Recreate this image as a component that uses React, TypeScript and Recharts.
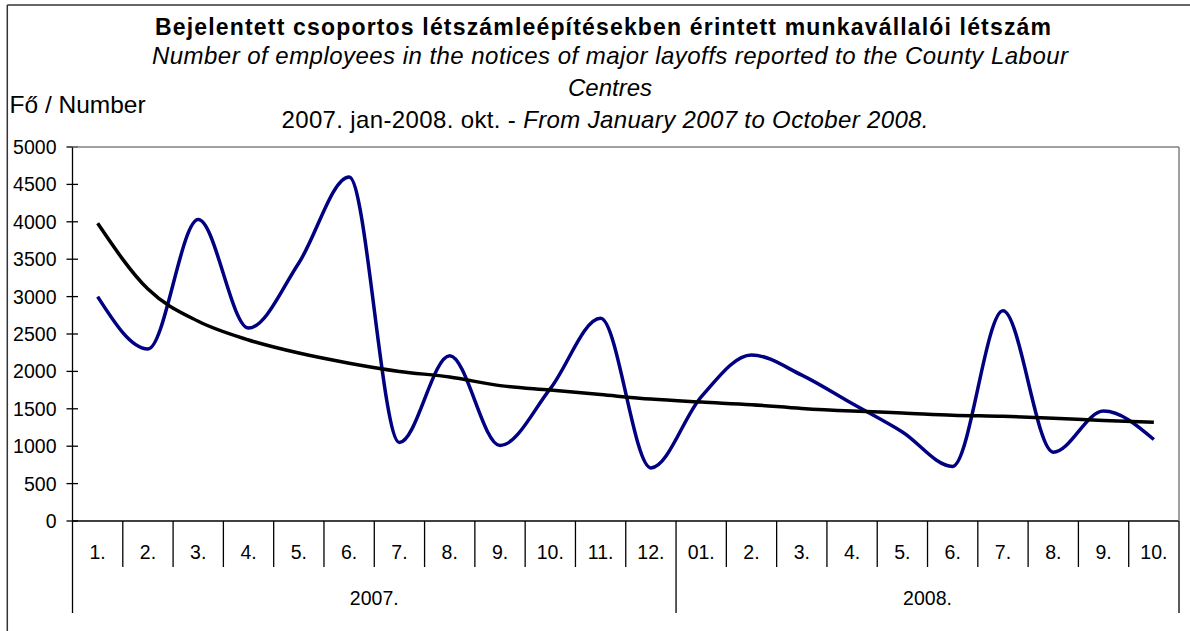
import React from 'react';
import { LineChart, Line, XAxis, YAxis } from 'recharts';

// month labels as printed under the axis
const monthLabels = ['1.', '2.', '3.', '4.', '5.', '6.', '7.', '8.', '9.', '10.', '11.', '12.',
  '01.', '2.', '3.', '4.', '5.', '6.', '7.', '8.', '9.', '10.'];
const yearLabels = ['2007.', '2008.'];
const monthsPerYear = [12, 10];

// Fő / Number
const employees = [3000, 2300, 4030, 2580, 3450, 4600, 1050, 2210, 1010, 1770, 2710, 710,
  1660, 2220, 1950, 1570, 1190, 730, 2810, 920, 1470, 1090];
// trend line
const trend = [3980, 3100, 2670, 2420, 2245, 2110, 2000, 1925, 1810, 1750, 1690, 1630,
  1590, 1555, 1505, 1470, 1445, 1415, 1400, 1375, 1345, 1320];

const yTicks = [0, 500, 1000, 1500, 2000, 2500, 3000, 3500, 4000, 4500, 5000];

const data = monthLabels.map((m, i) => ({ idx: i, month: m, employees: employees[i], trend: trend[i] }));

const W = 1190;
const H = 631;
const PLOT_LEFT = 72.5;
const PLOT_RIGHT = 1179;
const PLOT_TOP = 147;
const PLOT_BOTTOM = 521;
const STEP = (PLOT_RIGHT - PLOT_LEFT) / monthLabels.length;
const FONT = '"Liberation Sans", Arial, sans-serif';

const groupStarts = monthsPerYear.map((_, g) => monthsPerYear.slice(0, g).reduce((a, b) => a + b, 0));

function XTick(props: any) {
  const { x, y, payload } = props;
  const i = payload.value as number;
  const g = groupStarts.findIndex((s, k) => i >= s && i < s + monthsPerYear[k]);
  const isGroupEnd = i === groupStarts[g] + monthsPerYear[g] - 1;
  const isGroupStart = i === groupStarts[g];
  return (
    <g>
      <text x={x} y={y + 37.5} textAnchor="middle" fontSize={19.5} fontFamily={FONT} fill="#000">
        {monthLabels[i]}
      </text>
      <line x1={x + STEP / 2} x2={x + STEP / 2} y1={y} y2={y + (isGroupEnd ? 92 : 46)} stroke="#000" strokeWidth={1.3} />
      {i === 0 && (
        <line x1={x - STEP / 2} x2={x - STEP / 2} y1={y} y2={y + 92} stroke="#000" strokeWidth={1.3} />
      )}
      {isGroupStart && (
        <text x={x - STEP / 2 + (monthsPerYear[g] * STEP) / 2} y={y + 83.5} textAnchor="middle"
          fontSize={19.5} fontFamily={FONT} fill="#000">
          {yearLabels[g]}
        </text>
      )}
    </g>
  );
}

function YTick(props: any) {
  const { x, y, payload } = props;
  return (
    <g>
      <line x1={x - 6} x2={x + 5.5} y1={y} y2={y} stroke="#000" strokeWidth={1.3} />
      <text x={x - 16} y={y} dy="0.36em" textAnchor="end" fontSize={19.5} fontFamily={FONT} fill="#000">
        {payload.value}
      </text>
    </g>
  );
}

export default function App() {
  return (
    <div style={{ position: 'absolute', left: 0, top: 0, width: W, height: H, background: '#fff' }}>
      <LineChart
        width={W}
        height={H}
        data={data}
        margin={{ top: PLOT_TOP, right: W - PLOT_RIGHT, bottom: 0, left: 0 }}
      >
        <XAxis
          dataKey="idx"
          type="category"
          interval={0}
          height={H - PLOT_BOTTOM}
          padding={{ left: STEP / 2, right: STEP / 2 }}
          tickLine={false}
          tickSize={0}
          tickMargin={0}
          tick={<XTick />}
          axisLine={{ stroke: '#000', strokeWidth: 1.3 }}
        />
        <YAxis
          domain={[0, 5000]}
          ticks={yTicks}
          interval={0}
          width={PLOT_LEFT}
          tickLine={false}
          tickSize={0}
          tickMargin={0}
          tick={<YTick />}
          axisLine={{ stroke: '#000', strokeWidth: 1.3 }}
        />
        <Line type="monotone" dataKey="employees" stroke="#000080" strokeWidth={3.5}
          dot={false} activeDot={false} isAnimationActive={false} />
        <Line type="monotone" dataKey="trend" stroke="#000" strokeWidth={3.5}
          dot={false} activeDot={false} isAnimationActive={false} />
      </LineChart>
      <svg width={W} height={H} style={{ position: 'absolute', left: 0, top: 0, pointerEvents: 'none' }}>
        {/* outer frame */}
        <line x1={7.3} x2={7.3} y1={5} y2={H} stroke="#333" strokeWidth={1.5} />
        <line x1={7.3} x2={W} y1={5} y2={5} stroke="#333" strokeWidth={1.5} />
        {/* plot area border */}
        <line x1={PLOT_LEFT} x2={PLOT_RIGHT} y1={PLOT_TOP} y2={PLOT_TOP} stroke="#808080" strokeWidth={1.5} />
        <line x1={PLOT_RIGHT} x2={PLOT_RIGHT} y1={PLOT_TOP} y2={PLOT_BOTTOM} stroke="#808080" strokeWidth={1.5} />

        <text x={603} y={35} textAnchor="middle" fontSize={23} fontWeight="bold" fontFamily={FONT}
          textLength={896} lengthAdjust="spacing">
          Bejelentett csoportos létszámleépítésekben érintett munkavállalói létszám
        </text>
        <text x={610} y={64} textAnchor="middle" fontSize={24} fontStyle="italic" fontFamily={FONT}
          textLength={916} lengthAdjust="spacing">
          Number of employees in the notices of major layoffs reported to the County Labour
        </text>
        <text x={610} y={96} textAnchor="middle" fontSize={24} fontStyle="italic" fontFamily={FONT}>
          Centres
        </text>
        <text x={605} y={127.5} textAnchor="middle" fontSize={24} fontFamily={FONT}
          textLength={647} lengthAdjust="spacing">
          <tspan>2007. jan-2008. okt. - </tspan>
          <tspan fontStyle="italic">From January 2007 to October 2008.</tspan>
        </text>
        <text x={9.5} y={113} fontSize={24.5} fontFamily={FONT}>Fő / Number</text>
      </svg>
    </div>
  );
}
